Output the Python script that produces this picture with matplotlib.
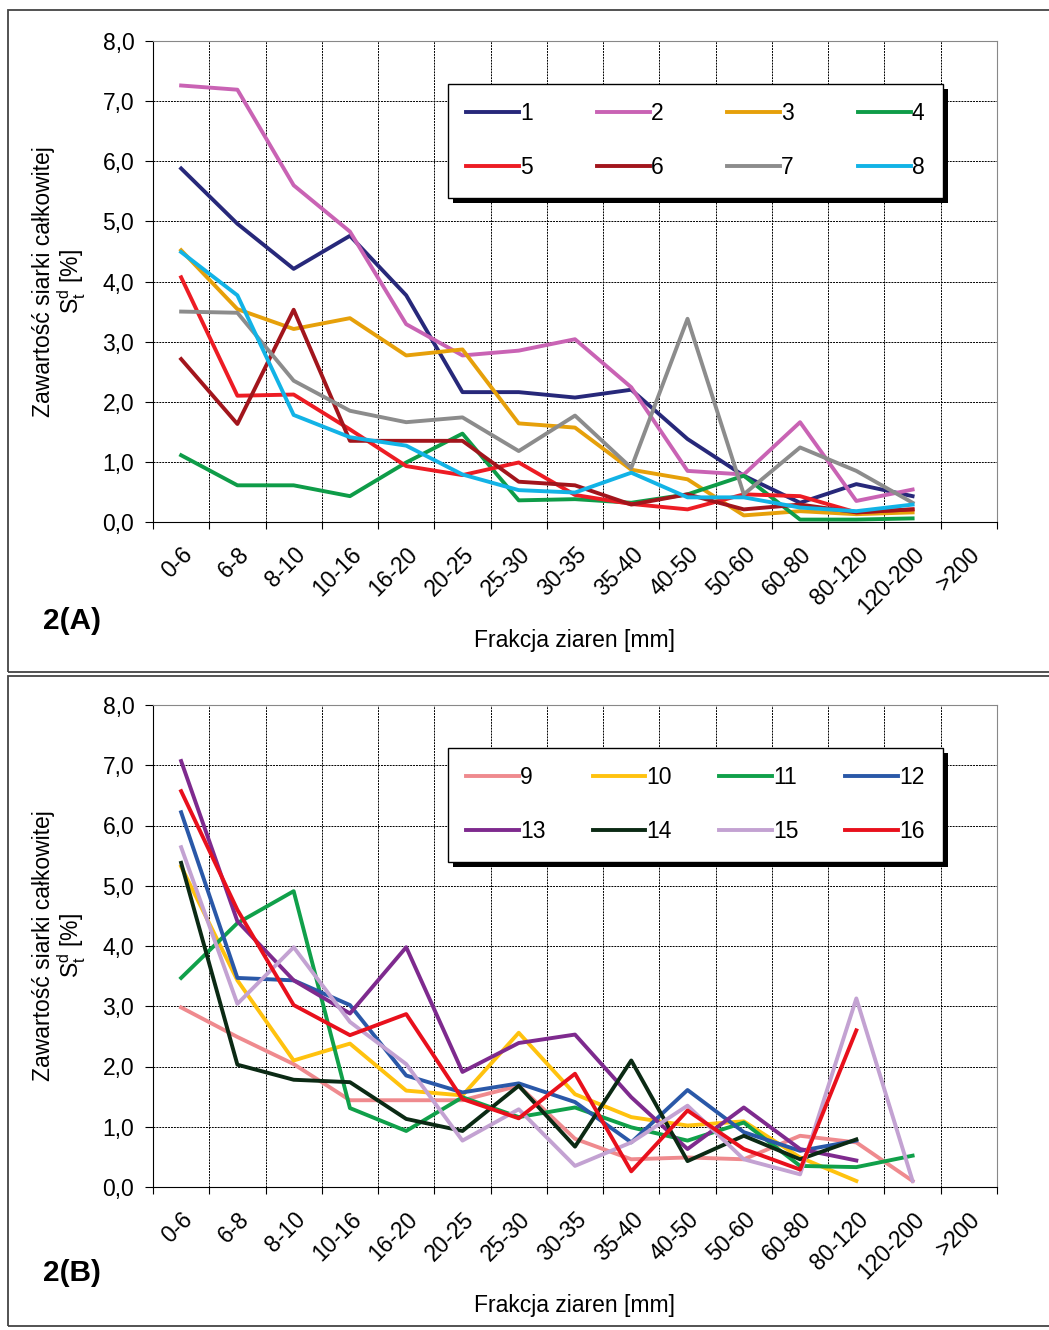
import matplotlib
matplotlib.use('Agg')
import matplotlib.pyplot as plt
from matplotlib.patches import Rectangle
import numpy as np

plt.rcParams['font.family'] = ['Liberation Sans', 'DejaVu Sans']
plt.rcParams['mathtext.fontset'] = 'custom'
plt.rcParams['mathtext.rm'] = 'Liberation Sans'

fractions = ['0-6', '6-8', '8-10', '10-16', '16-20', '20-25', '25-30', '30-35',
             '35-40', '40-50', '50-60', '60-80', '80-120', '120-200', '>200']

# panel A, samples 1-8 (15th fraction >200 has no data)
s1 = [5.88, 4.96, 4.21, 4.76, 3.77, 2.16, 2.16, 2.07, 2.20, 1.38, 0.77, 0.32, 0.63, 0.43]
s2 = [7.26, 7.19, 5.60, 4.83, 3.29, 2.77, 2.85, 3.04, 2.24, 0.85, 0.79, 1.66, 0.35, 0.54]
s3 = [4.52, 3.54, 3.21, 3.39, 2.77, 2.87, 1.64, 1.57, 0.87, 0.71, 0.11, 0.18, 0.13, 0.16]
s4 = [1.11, 0.61, 0.61, 0.43, 0.99, 1.47, 0.36, 0.38, 0.32, 0.46, 0.77, 0.04, 0.04, 0.06]
s5 = [4.07, 2.10, 2.12, 1.54, 0.93, 0.78, 0.99, 0.45, 0.30, 0.21, 0.46, 0.43, 0.16, 0.21]
s6 = [2.71, 1.63, 3.53, 1.35, 1.35, 1.35, 0.67, 0.61, 0.29, 0.46, 0.21, 0.29, 0.16, 0.21]
s7 = [3.50, 3.48, 2.35, 1.85, 1.66, 1.74, 1.18, 1.77, 0.90, 3.38, 0.46, 1.24, 0.85, 0.32]
s8 = [4.49, 3.77, 1.78, 1.41, 1.27, 0.79, 0.53, 0.49, 0.82, 0.41, 0.41, 0.24, 0.18, 0.29]

# panel B, samples 9-16
s9 = [2.98, 2.49, 2.04, 1.44, 1.44, 1.44, 1.68, 0.80, 0.46, 0.49, 0.46, 0.85, 0.74, 0.10]
s10 = [5.32, 3.43, 2.10, 2.38, 1.60, 1.52, 2.56, 1.54, 1.16, 1.02, 1.09, 0.49, 0.10]
s11 = [3.47, 4.38, 4.91, 1.31, 0.93, 1.49, 1.16, 1.32, 0.99, 0.77, 1.07, 0.35, 0.33, 0.52]
s12 = [6.22, 3.47, 3.43, 3.02, 1.85, 1.57, 1.72, 1.41, 0.74, 1.61, 0.91, 0.60, 0.77]
s13 = [7.07, 4.41, 3.43, 2.88, 3.98, 1.91, 2.39, 2.53, 1.49, 0.63, 1.32, 0.63, 0.44]
s14 = [5.38, 2.03, 1.78, 1.74, 1.13, 0.93, 1.68, 0.67, 2.10, 0.43, 0.85, 0.46, 0.79]
s15 = [5.64, 3.04, 3.98, 2.74, 2.04, 0.77, 1.29, 0.35, 0.74, 1.35, 0.46, 0.21, 3.13, 0.10]
s16 = [6.57, 4.60, 3.02, 2.52, 2.87, 1.46, 1.14, 1.88, 0.26, 1.27, 0.63, 0.29, 2.60]

series_a = [s1, s2, s3, s4, s5, s6, s7, s8]
labels_a = ['1', '2', '3', '4', '5', '6', '7', '8']
colors_a = ['#27287A', '#C963B4', '#E6A00A', '#0E9C48',
            '#ED1C24', '#A2151C', '#8C8C8C', '#12B3E6']

series_b = [s9, s10, s11, s12, s13, s14, s15, s16]
labels_b = ['9', '10', '11', '12', '13', '14', '15', '16']
colors_b = ['#EF8A8E', '#FFC20E', '#10A04A', '#2A58A8',
            '#7E2A8E', '#0B2A14', '#C3A2D2', '#E8101C']

FS = 16.5

fig = plt.figure(figsize=(10.49, 13.3), dpi=100)

# panel frames
for top, bot in [(10, 672), (676, 1326)]:
    fig.patches.append(Rectangle((8 / 1049, 1 - bot / 1330), 1.2, (bot - top) / 1330,
                                 transform=fig.transFigure, fill=False,
                                 edgecolor='#444444', linewidth=1.3))


def draw_panel(ax, series, labels, colors, tag, tag_y):
    n = len(fractions)
    for s, lab, c in zip(series, labels, colors):
        x = np.arange(len(s)) + 0.5
        ax.plot(x, s, color=c, linewidth=2.8, label=lab)
    ax.set_xlim(0, n)
    ax.set_ylim(0, 8)
    ax.set_xticks(np.arange(n + 1))
    ax.set_xticklabels([])
    ax.set_xticks(np.arange(n) + 0.5, minor=True)
    ax.set_xticklabels(fractions, minor=True, rotation=45, ha='right',
                       rotation_mode='anchor', fontsize=FS)
    ax.tick_params(axis='x', which='minor', length=0, pad=15)
    ax.tick_params(axis='x', which='major', length=5, direction='out', color='black')
    ax.set_yticks(np.arange(0, 9, 1))
    ax.set_yticklabels(['%d,0' % v for v in range(9)], fontsize=FS)
    ax.tick_params(axis='y', length=5.5, direction='out', pad=8)
    ax.grid(True, which='major', color='black', linestyle=(0, (2, 1)), linewidth=0.7)
    ax.set_axisbelow(True)
    for sp in ['top', 'right']:
        ax.spines[sp].set_color('#888888')
    ax.spines['left'].set_color('black')
    ax.spines['bottom'].set_color('black')
    ax.set_xlabel('Frakcja ziaren [mm]', fontsize=FS)
    ax.xaxis.set_label_coords(0.5, -0.222)
    ax.set_ylabel('Zawartość siarki całkowitej\nS$_\\mathregular{t}^\\mathregular{d}$ [%]',
                  fontsize=FS, linespacing=1.05)
    ax.yaxis.set_label_coords(-0.077, 0.5)

    h, l = ax.get_legend_handles_labels()
    order = [0, 4, 1, 5, 2, 6, 3, 7]
    leg = ax.legend([h[i] for i in order], [l[i] for i in order], ncol=4,
                    loc='upper left', bbox_to_anchor=(0.3495, 0.9106, 0.5865, 0.0),
                    mode='expand', borderaxespad=0, fontsize=FS, handlelength=2.3,
                    handletextpad=0.05, labelspacing=1.35, borderpad=0.8,
                    fancybox=False, framealpha=1, edgecolor='black')
    leg.get_frame().set_linewidth(1.0)
    leg.set_zorder(6)

    fig.text(0.069, tag_y, tag, fontsize=21.5, fontweight='bold', ha='center', va='center')
    return leg


ax_a = fig.add_axes([153 / 1049, 1 - 522 / 1330, 844 / 1049, 481 / 1330])
leg_a = draw_panel(ax_a, series_a, labels_a, colors_a, '2(A)', 1 - 621 / 1330)

ax_b = fig.add_axes([153 / 1049, 1 - 1187 / 1330, 844 / 1049, 482 / 1330])
leg_b = draw_panel(ax_b, series_b, labels_b, colors_b, '2(B)', 1 - 1273 / 1330)

# solid black drop shadow behind each legend box
fig.canvas.draw()
for ax, leg in [(ax_a, leg_a), (ax_b, leg_b)]:
    bb = leg.get_frame().get_window_extent()
    ax.add_patch(Rectangle((bb.x0 + 5, bb.y0 - 5), bb.width, bb.height, transform=None,
                           facecolor='black', edgecolor='none', zorder=5.5, clip_on=False))

fig.savefig('out.png', dpi=100)
